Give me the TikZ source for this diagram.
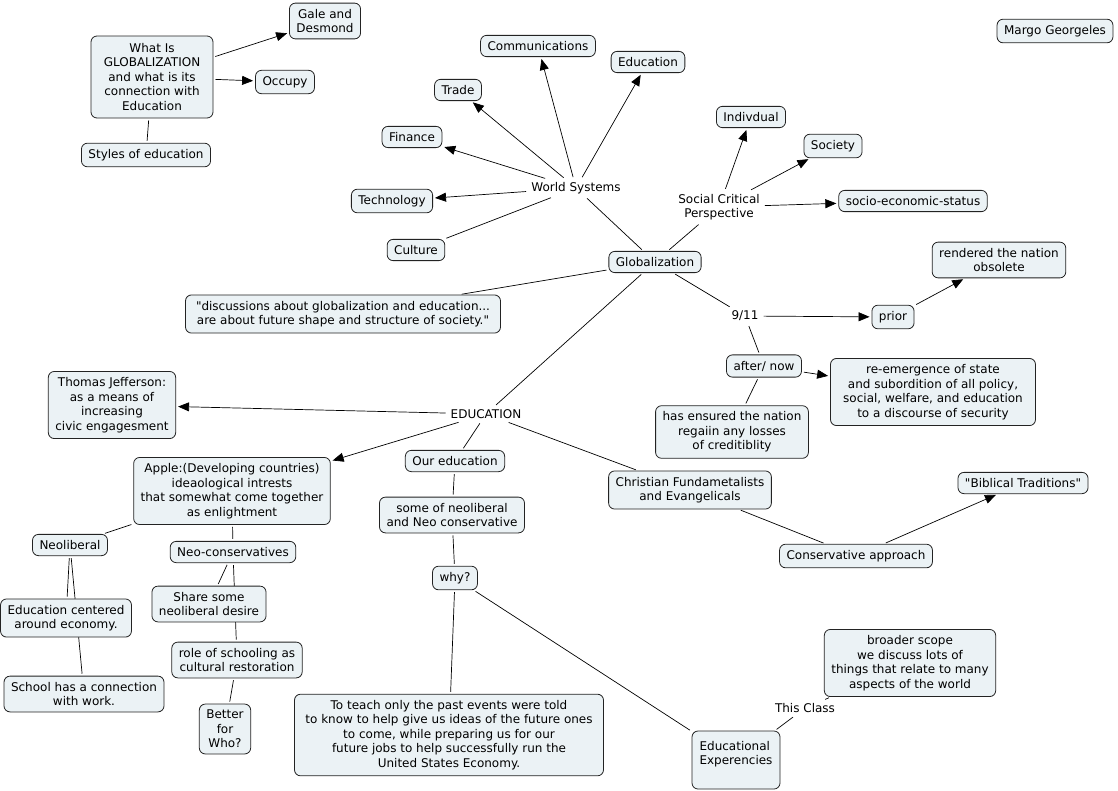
\documentclass[tikz,border=0pt]{standalone}
\usepackage{fontspec}
\setmainfont{DejaVu Sans}[Ligatures=TeXOff]
\usetikzlibrary{arrows.meta}
\pgfdeclarelayer{bg}
\pgfsetlayers{bg,main}
\definecolor{boxfill}{RGB}{235,242,245}
\definecolor{boxline}{RGB}{35,35,35}
\tikzset{
  every node/.style={font=\fontsize{12}{14.5}\selectfont},
  box/.style={draw=boxline, fill=boxfill, rounded corners=6pt, align=center,
    inner xsep=7pt, inner ysep=6pt, line width=0.8pt},
  lbl/.style={align=center, inner sep=3pt},
  link/.style={draw=black, line width=0.7pt, shorten <=2pt, shorten >=2pt},
  arr/.style={link, -{Triangle[length=11pt,width=9pt]}},
}
\begin{document}
\begin{tikzpicture}[x=1pt,y=-1pt]
\useasboundingbox (0,0) rectangle (1118,790);

\node[box, minimum width=122pt, minimum height=82pt] (what) at (152,77) {What Is\\GLOBALIZATION\\and what is its\\connection with\\Education};
\node[box] (gale) at (325,21) {Gale and\\Desmond};
\node[box] (occupy) at (285,82) {Occupy};
\node[box] (styles) at (146,155) {Styles of education};
\node[box] (comm) at (538,46) {Communications};
\node[box] (educ) at (648,62) {Education};
\node[box] (trade) at (458,90) {Trade};
\node[box] (finance) at (412,137) {Finance};
\node[box] (tech) at (392,201) {Technology};
\node[box] (culture) at (416,250) {Culture};
\node[lbl] (ws) at (576,188) {World Systems};
\node[box] (glob) at (655,262) {Globalization};
\node[box] (indiv) at (751,117) {Indivdual};
\node[box] (society) at (833,146) {Society};
\node[lbl] (scp) at (719,207) {Social Critical\\Perspective};
\node[box] (ses) at (913,201) {socio-economic-status};
\node[box] (margo) at (1055,31) {Margo Georgeles};
\node[box] (rendered) at (999,260) {rendered the nation\\obsolete};
\node[box, minimum width=315pt] (disc) at (343,314) {"discussions about globalization and education...\\are about future shape and structure of society."};
\node[lbl] (nine) at (745,316) {9/11};
\node[box] (prior) at (893,317) {prior};
\node[box] (after) at (764,366) {after/ now};
\node[box, minimum width=205pt] (reem) at (933,392) {re-emergence of state\\and subordition of all policy,\\social, welfare, and education\\to a discourse of security};
\node[box] (ensured) at (732,432) {has ensured the nation\\regaiin any losses\\of creditiblity};
\node[box] (jeff) at (112,405) {Thomas Jefferson:\\as a means of\\increasing\\civic engagesment};
\node[lbl] (edu) at (486,414) {EDUCATION};
\node[box] (apple) at (232,491) {Apple:(Developing countries)\\ideaological intrests\\that somewhat come together\\as enlightment};
\node[box] (oured) at (455,461) {Our education};
\node[box] (someof) at (452,515) {some of neoliberal\\and Neo conservative};
\node[box] (christ) at (690,490) {Christian Fundametalists\\and Evangelicals};
\node[box] (bibl) at (1023,483) {"Biblical Traditions"};
\node[box] (cons) at (856,556) {Conservative approach};
\node[box] (neolib) at (70,545) {Neoliberal};
\node[box] (neocon) at (233,552) {Neo-conservatives};
\node[box] (why) at (455,578) {why?};
\node[box] (educent) at (66,618) {Education centered\\around economy.};
\node[box] (share) at (209,604) {Share some\\neoliberal desire};
\node[box] (role) at (237,660) {role of schooling as\\cultural restoration};
\node[box] (school) at (84,694) {School has a connection\\with work.};
\node[box] (better) at (225,729) {Better\\for\\Who?};
\node[box, minimum width=309pt] (teach) at (449,735) {To teach only the past events were told\\to know to help give us ideas of the future ones\\to come, while preparing us for our\\future jobs to help successfully run the\\United States Economy.};
\node[box, align=left, minimum height=58pt, minimum width=88pt, inner xsep=5pt] (edexp) at (736,760) {Educational\\Experencies\\~};
\node[box] (broader) at (910,663) {broader scope\\we discuss lots of\\things that relate to many\\aspects of the world};
\node[lbl] (thisclass) at (805,708) {This Class};

\begin{pgfonlayer}{bg}
\draw[arr] (what) -- (gale);
\draw[arr] (what) -- (occupy);
\draw[link] (what) -- (styles);
\draw[arr] (ws) -- (comm);
\draw[arr] (ws) -- (educ);
\draw[arr] (ws) -- (trade);
\draw[arr] (ws) -- (finance);
\draw[arr] (ws) -- (tech);
\draw[link] (ws) -- (culture);
\draw[link] (ws) -- (glob);
\draw[link] (glob) -- (scp);
\draw[arr] (scp) -- (indiv);
\draw[arr] (scp) -- (society);
\draw[arr] (scp) -- (ses);
\draw[link] (glob) -- (disc);
\draw[link] (glob) -- (nine);
\draw[arr] (nine) -- (prior);
\draw[arr] (prior) -- (rendered);
\draw[link] (nine) -- (after);
\draw[arr] (after) -- (reem);
\draw[link] (after) -- (ensured);
\draw[link] (glob) -- (edu);
\draw[arr] (edu) -- (jeff);
\draw[arr] (edu) -- (apple);
\draw[link] (edu) -- (oured);
\draw[link] (edu) -- (christ);
\draw[link] (christ) -- (cons);
\draw[arr] (cons) -- (bibl);
\draw[link] (oured) -- (someof);
\draw[link] (someof) -- (why);
\draw[link] (why) -- (teach);
\draw[link] (why) -- (edexp);
\draw[link] (edexp) -- (thisclass);
\draw[link] (thisclass) -- (broader);
\draw[link] (apple) -- (neolib);
\draw[link] (apple) -- (neocon);
\draw[link] (neolib) -- (educent);
\draw[link] (neolib) -- (school);
\draw[link] (neocon) -- (share);
\draw[link] (neocon) -- (role);
\draw[link] (role) -- (better);
\end{pgfonlayer}
\end{tikzpicture}
\end{document}
